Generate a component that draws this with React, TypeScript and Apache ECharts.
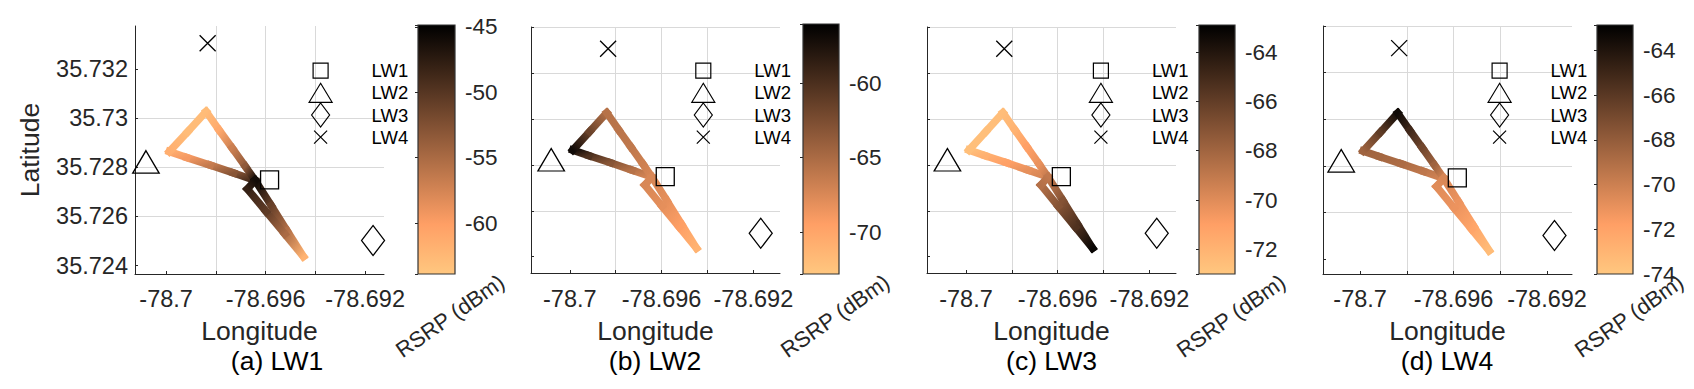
import React, { useEffect, useRef } from 'react';
import * as echarts from 'echarts';

// ---------- data ----------
// flight route samples (lon / lat)
const routeLon = [-78.69642, -78.69729, -78.69823, -78.69917, -78.69987, -78.69913, -78.69839, -78.69787, -78.69734, -78.69681, -78.69642, -78.69577, -78.69513, -78.69448, -78.69523, -78.69598, -78.69673, -78.69642];
const routeLat = [35.72747, 35.72777, 35.72809, 35.7284, 35.72864, 35.72945, 35.73027, 35.72952, 35.72878, 35.72803, 35.72747, 35.72644, 35.72541, 35.72437, 35.72529, 35.7262, 35.72712, 35.72747];

// RSRP (dBm) measured along the route, one list per LW
const rsrpLW1 = [-48.5, -53.0, -56.5, -59.5, -61.5, -62.8, -62.8, -61.0, -57.0, -53.5, -45.5, -51.0, -55.5, -62.0, -55.0, -50.5, -48.0, -46.0];
const rsrpLW2 = [-67.4, -65.6, -63.2, -60.2, -56.9, -61.6, -65.6, -65.8, -66.1, -66.8, -67.4, -68.1, -69.4, -71.1, -69.4, -68.1, -67.4, -67.4];
const rsrpLW3 = [-69.6, -70.2, -71.0, -71.8, -72.6, -72.6, -72.5, -72.0, -71.0, -70.3, -69.0, -67.1, -65.4, -63.2, -65.4, -67.1, -68.6, -69.0];
const rsrpLW4 = [-70.2, -69.5, -68.9, -68.6, -68.4, -66.2, -63.4, -65.1, -66.8, -68.4, -70.4, -71.1, -72.1, -73.4, -72.1, -71.1, -70.7, -70.4];

// LW base station positions
const lwNames = ['LW1', 'LW2', 'LW3', 'LW4'];
const lwLon = [-78.69584, -78.70081, -78.69168, -78.69833];
const lwLat = [35.72749, 35.72822, 35.72502, 35.73305];

// colour bar ranges and tick steps
const cbarMin = [-63.9, -72.8, -73.0, -74.0];
const cbarMax = [-44.85, -56.04, -62.9, -62.86];
const cbarStep = [5, 5, 2, 2];

// axis ranges
const xMin = [-78.70125, -78.70169, -78.7017, -78.70159];
const xMax = [-78.69124, -78.69084, -78.69084, -78.69093];
const yMin = [35.72366, 35.72329, 35.72329, 35.72337];
const yMax = [35.73375, 35.734, 35.734, 35.734];

// tick labels
const xTicks = [-78.7, -78.698, -78.696, -78.694, -78.692];
const xTickLabels = [-78.7, -78.696, -78.692];
const yTicks = [35.724, 35.726, 35.728, 35.73, 35.732, 35.734];

const panelTitles = ['(a) LW1', '(b) LW2', '(c) LW3', '(d) LW4'];

// ---------- layout / style ----------
const FONT = '"Liberation Sans", Arial, Helvetica, sans-serif';
const TXT = '#262626';
const LINE_W = 7.5;
const layout = [
  { grid: { left: 135, top: 26, width: 249, height: 248 }, cbar: { left: 418, top: 25, width: 37, height: 249 }, legendX: 320, titleX: 277 },
  { grid: { left: 531, top: 27, width: 249, height: 246 }, cbar: { left: 803, top: 24, width: 36, height: 250 }, legendX: 702.7, titleX: 655 },
  { grid: { left: 927, top: 27, width: 249, height: 246 }, cbar: { left: 1199, top: 25, width: 36, height: 249 }, legendX: 1100.3, titleX: 1051.5 },
  { grid: { left: 1323, top: 26, width: 249, height: 248 }, cbar: { left: 1597, top: 25, width: 36, height: 249 }, legendX: 1499, titleX: 1447 },
];

const plotSymbols: any[] = ['rect', 'triangle', 'diamond', 'path://M0,0L16,16M16,0L0,16'];
const plotSymbolSizes: any[] = [[18, 18], [26.5, 22.5], [23, 30], [16, 16]];
const legendIcons = [
  'path://M0,0M24,24M4.5,4.5L19.5,4.5L19.5,19.5L4.5,19.5Z',
  'path://M0,0M24,24M12,2.5L23.5,21.5L0.5,21.5Z',
  'path://M0,0M24,24M12,0L21,12L12,24L3,12Z',
  'path://M0,0M24,24M5.5,5.5L18.5,18.5M18.5,5.5L5.5,18.5',
];

function copper(x: number) {
  const r = Math.round(255 * Math.min(1, 1.25 * x));
  const g = Math.round(255 * 0.7812 * x);
  const b = Math.round(255 * 0.4975 * x);
  return `rgb(${r},${g},${b})`;
}
function rsrpColor(v: number, mn: number, mx: number) {
  let x = 1 - (v - mn) / (mx - mn);
  x = Math.max(0, Math.min(1, x));
  return copper(x);
}
const isMult = (v: number, step: number) => Math.abs(v / step - Math.round(v / step)) < 1e-6;
const fmt = (v: number) => String(parseFloat(v.toFixed(4)));

function buildOption() {
  const rsrp = [rsrpLW1, rsrpLW2, rsrpLW3, rsrpLW4];
  const grid: any[] = [];
  const xAxis: any[] = [];
  const yAxis: any[] = [];
  const series: any[] = [];
  const legend: any[] = [];
  const title: any[] = [];
  const graphic: any[] = [];

  layout.forEach((L, i) => {
    const bottom = L.grid.top + L.grid.height;
    grid.push({ ...L.grid, outerBoundsMode: 'none', containLabel: false });
    xAxis.push({
      gridIndex: i, type: 'value', min: xMin[i], max: xMax[i],
      minInterval: 0.002, maxInterval: 0.002,
      axisLine: { show: true, onZero: false, lineStyle: { color: TXT, width: 1 } },
      axisTick: { show: true, inside: true, length: 3, lineStyle: { color: TXT }, customValues: xTicks },
      axisLabel: {
        show: true, fontSize: 23.5, color: TXT, fontFamily: FONT, margin: 299 - bottom - 11.75,
        customValues: xTickLabels,
        formatter: (v: number) => (isMult(v, 0.004) ? fmt(v) : ''),
      },
      splitLine: { show: true, showMinLine: false, showMaxLine: false, lineStyle: { color: '#d9d9d9', width: 1 } },
      name: 'Longitude', nameLocation: 'middle', nameGap: 331 - bottom - 13.25, nameMoveOverlap: false,
      nameTextStyle: { fontSize: 26.5, color: TXT, fontFamily: FONT },
    });
    yAxis.push({
      gridIndex: i, type: 'value', min: yMin[i], max: yMax[i],
      minInterval: 0.002, maxInterval: 0.002,
      axisLine: { show: true, onZero: false, lineStyle: { color: TXT, width: 1 } },
      axisTick: { show: true, inside: true, length: 3, lineStyle: { color: TXT }, customValues: yTicks },
      axisLabel: {
        show: i === 0, fontSize: 23.5, color: TXT, fontFamily: FONT, margin: 7,
        formatter: (v: number) => (isMult(v, 0.002) ? fmt(v) : ''),
      },
      splitLine: { show: true, showMinLine: false, showMaxLine: i > 0, lineStyle: { color: '#d9d9d9', width: 1 } },
      name: i === 0 ? 'Latitude' : '', nameLocation: 'middle', nameGap: 91.5, nameRotate: 90, nameMoveOverlap: false,
      nameTextStyle: { fontSize: 26.5, color: TXT, fontFamily: FONT },
    });

    // trajectory: one item per route segment [lon0, lat0, lon1, lat1, rsrp0, rsrp1]
    const vals = rsrp[i];
    const segs: number[][] = [];
    for (let k = 0; k < routeLon.length - 1; k++) {
      segs.push([routeLon[k], routeLat[k], routeLon[k + 1], routeLat[k + 1], vals[k], vals[k + 1]]);
    }
    const mn = cbarMin[i];
    const mx = cbarMax[i];
    series.push({
      type: 'custom', xAxisIndex: i, yAxisIndex: i, silent: true, z: 2, clip: true,
      encode: { x: [0, 2], y: [1, 3] },
      data: segs,
      renderItem: (params: any, api: any) => {
        const lon0 = api.value(0), lat0 = api.value(1), lon1 = api.value(2), lat1 = api.value(3);
        const p0 = api.coord([lon0, lat0]);
        const p1 = api.coord([lon1, lat1]);
        const gx0 = p0[0] <= p1[0] ? 0 : 1;
        const gy0 = p0[1] <= p1[1] ? 0 : 1;
        return {
          type: 'line',
          shape: { x1: p0[0], y1: p0[1], x2: p1[0], y2: p1[1] },
          style: {
            stroke: new echarts.graphic.LinearGradient(gx0, gy0, 1 - gx0, 1 - gy0, [
              { offset: 0, color: rsrpColor(api.value(4), mn, mx) },
              { offset: 1, color: rsrpColor(api.value(5), mn, mx) },
            ]),
            lineWidth: LINE_W,
            lineCap: 'square',
            fill: null,
          },
        };
      },
    });

    // LW markers
    lwNames.forEach((nm, j) => {
      series.push({
        name: nm, type: 'scatter', xAxisIndex: i, yAxisIndex: i, silent: true, z: 3,
        symbol: plotSymbols[j], symbolSize: plotSymbolSizes[j],
        itemStyle: { color: 'rgba(255,255,255,0)', borderColor: '#000', borderWidth: 1.3, opacity: 1 },
        data: [[lwLon[j], lwLat[j]]],
      });
    });

    legend.push({
      data: lwNames.map((nm, j) => ({ name: nm, icon: legendIcons[j] })),
      orient: 'vertical', left: L.legendX - 12, top: 58, padding: 0,
      itemWidth: 24, itemHeight: 24, itemGap: -3, selectedMode: false,
      itemStyle: { color: 'rgba(255,255,255,0)', borderColor: '#000', borderWidth: 1.2 },
      textStyle: { fontSize: 18.5, color: '#000', fontFamily: FONT, padding: [0, 0, 0, 34] },
    });

    title.push({
      text: panelTitles[i], left: L.titleX, top: 347, textAlign: 'center', padding: 0,
      textStyle: { fontSize: 26.5, fontWeight: 'normal', color: '#000', fontFamily: FONT },
    });
  });

  layout.forEach((L, i) => {
    const ci = 4 + i;
    grid.push({ ...L.cbar, outerBoundsMode: 'none', containLabel: false });
    xAxis.push({ gridIndex: ci, type: 'value', min: 0, max: 1, show: false });
    yAxis.push({
      gridIndex: ci, type: 'value', position: 'right', min: cbarMin[i], max: cbarMax[i],
      minInterval: cbarStep[i], maxInterval: cbarStep[i],
      axisLine: { show: false },
      axisTick: { show: true, inside: true, length: 3, lineStyle: { color: TXT } },
      axisLabel: {
        show: true, fontSize: 22.5, color: TXT, fontFamily: FONT, margin: 10,
        formatter: (v: number) => (isMult(v, cbarStep[i]) ? String(Math.round(v)) : ''),
      },
      splitLine: { show: false },
    });
    const stops = [0, 0.2, 0.4, 0.6, 0.8, 1].map((o) => ({ offset: o, color: copper(o) }));
    series.push({
      type: 'custom', xAxisIndex: ci, yAxisIndex: ci, silent: true, clip: false, z: 1,
      data: [[0, cbarMin[i], 1, cbarMax[i]]],
      renderItem: (params: any, api: any) => {
        const p0 = api.coord([api.value(0), api.value(3)]);
        const p1 = api.coord([api.value(2), api.value(1)]);
        return {
          type: 'rect',
          shape: { x: p0[0], y: p0[1], width: p1[0] - p0[0], height: p1[1] - p0[1] },
          style: { fill: new echarts.graphic.LinearGradient(0, 0, 0, 1, stops), stroke: '#333', lineWidth: 1.2 },
          z2: 1,
        };
      },
    });
    graphic.push({
      type: 'text', x: L.cbar.left + 32, y: 316, rotation: (35 * Math.PI) / 180, silent: true,
      style: { text: 'RSRP (dBm)', fontSize: 22, fill: TXT, fontFamily: FONT, align: 'center', verticalAlign: 'middle' },
    });
  });

  return {
    animation: false,
    backgroundColor: '#fff',
    textStyle: { fontFamily: FONT },
    grid, xAxis, yAxis, series, legend, title, graphic,
  };
}

export default function App() {
  const ref = useRef<HTMLDivElement>(null);
  useEffect(() => {
    const chart = echarts.init(ref.current as HTMLDivElement, null, { renderer: 'svg' });
    chart.setOption(buildOption() as any);
    return () => chart.dispose();
  }, []);
  return (
    <div
      ref={ref}
      style={{ position: 'absolute', left: 0, top: 0, width: 1694, height: 389, background: '#fff' }}
    />
  );
}
